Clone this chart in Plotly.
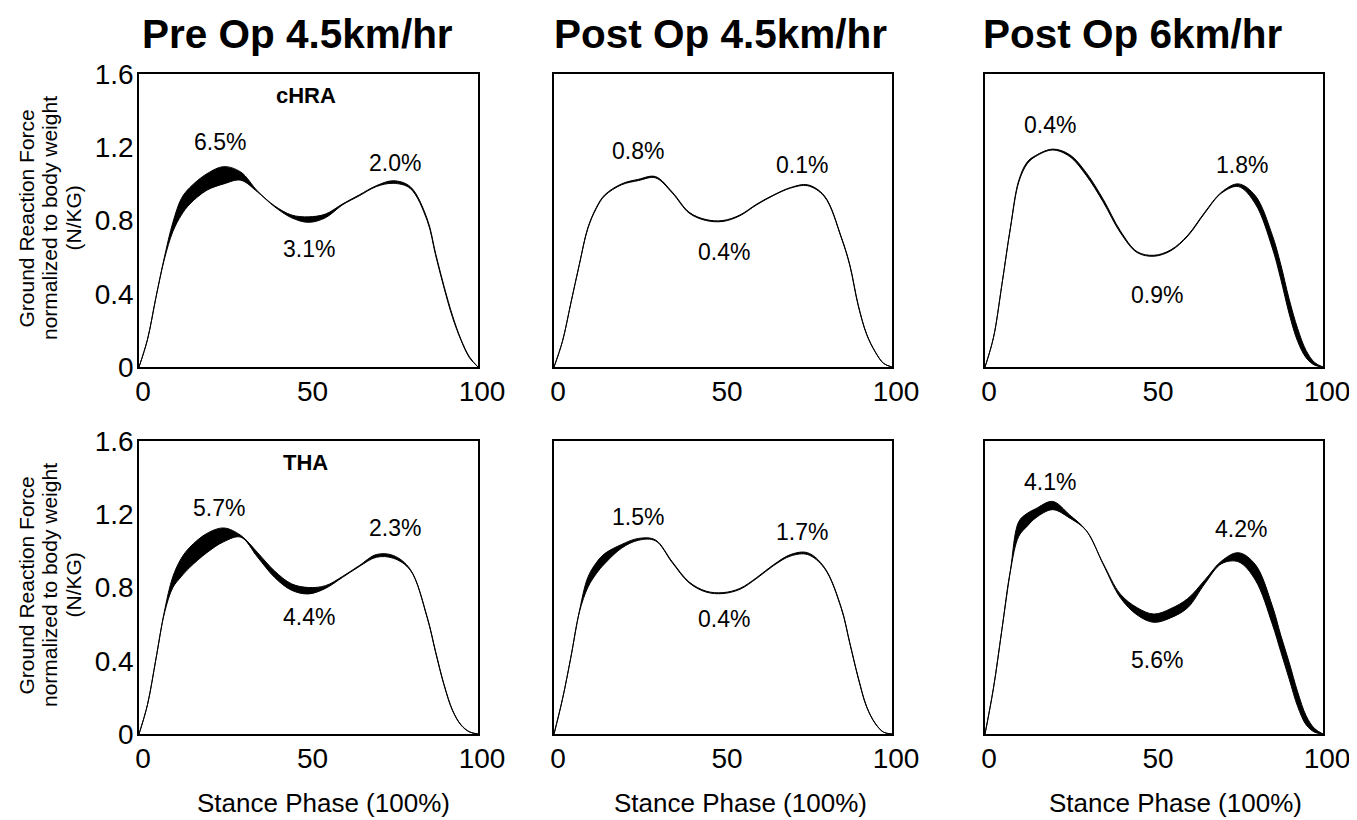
import plotly.graph_objects as go

W, H = 1357, 820
OFF = 8                      # page body margin of the browser
FW, FH = W - OFF, H - OFF    # figure size so that it ends at the window edge

# Stance phase (% of stance)
X = [0, 2.5, 5, 7.5, 10, 12.5, 15, 20, 25, 30, 35, 40, 45, 50, 55, 60, 65, 70, 75, 80, 85, 87.5, 90, 92.5, 95, 97.5, 100]

# Pre Op 4.5 km/hr - cHRA
pre45_chra_upper = [0, 0.15, 0.38, 0.60, 0.79, 0.92, 0.98, 1.055, 1.094, 1.065, 0.96, 0.88, 0.83, 0.82, 0.835, 0.89, 0.94, 0.99, 1.017, 0.985, 0.81, 0.62, 0.44, 0.28, 0.15, 0.055, 0]
pre45_chra_lower = [0, 0.15, 0.38, 0.59, 0.74, 0.83, 0.89, 0.965, 1.00, 1.02, 0.955, 0.875, 0.815, 0.79, 0.815, 0.885, 0.935, 0.985, 1.003, 0.975, 0.80, 0.61, 0.43, 0.27, 0.145, 0.05, 0]
# Post Op 4.5 km/hr - cHRA
post45_chra_upper = [0, 0.14, 0.35, 0.56, 0.76, 0.87, 0.94, 1.00, 1.025, 1.04, 0.955, 0.845, 0.805, 0.80, 0.83, 0.89, 0.94, 0.98, 0.995, 0.935, 0.71, 0.56, 0.34, 0.18, 0.085, 0.02, 0]
post45_chra_lower = [0, 0.14, 0.35, 0.56, 0.755, 0.865, 0.935, 0.995, 1.018, 1.033, 0.95, 0.84, 0.80, 0.795, 0.826, 0.886, 0.937, 0.977, 0.99, 0.93, 0.705, 0.555, 0.335, 0.177, 0.083, 0.02, 0]
# Post Op 6 km/hr - cHRA
post6_chra_upper = [0, 0.16, 0.45, 0.76, 1.02, 1.12, 1.155, 1.19, 1.16, 1.06, 0.915, 0.745, 0.63, 0.61, 0.64, 0.72, 0.845, 0.955, 1.00, 0.935, 0.72, 0.56, 0.37, 0.21, 0.09, 0.025, 0]
post6_chra_lower = [0, 0.16, 0.45, 0.755, 1.01, 1.11, 1.15, 1.185, 1.15, 1.045, 0.90, 0.735, 0.625, 0.605, 0.635, 0.715, 0.84, 0.95, 0.985, 0.89, 0.65, 0.48, 0.29, 0.14, 0.05, 0.01, 0]
# Pre Op 4.5 km/hr - THA
pre45_tha_upper = [0, 0.16, 0.41, 0.67, 0.86, 0.96, 1.02, 1.095, 1.125, 1.085, 0.99, 0.89, 0.82, 0.80, 0.81, 0.86, 0.92, 0.98, 0.975, 0.90, 0.64, 0.45, 0.27, 0.13, 0.05, 0.012, 0]
pre45_tha_lower = [0, 0.16, 0.41, 0.66, 0.80, 0.86, 0.91, 0.99, 1.05, 1.075, 0.965, 0.855, 0.785, 0.765, 0.795, 0.855, 0.915, 0.965, 0.96, 0.895, 0.635, 0.445, 0.265, 0.127, 0.048, 0.011, 0]
# Post Op 4.5 km/hr - THA
post45_tha_upper = [0, 0.19, 0.42, 0.67, 0.855, 0.935, 0.985, 1.035, 1.068, 1.06, 0.94, 0.83, 0.78, 0.772, 0.795, 0.855, 0.925, 0.98, 0.99, 0.91, 0.69, 0.50, 0.31, 0.15, 0.06, 0.01, 0]
post45_tha_lower = [0, 0.19, 0.42, 0.665, 0.80, 0.875, 0.93, 1.015, 1.058, 1.055, 0.935, 0.825, 0.775, 0.767, 0.79, 0.85, 0.92, 0.972, 0.98, 0.905, 0.685, 0.495, 0.305, 0.147, 0.058, 0.01, 0]
# Post Op 6 km/hr - THA
post6_tha_upper = [0, 0.25, 0.57, 0.89, 1.16, 1.205, 1.23, 1.27, 1.197, 1.11, 0.93, 0.765, 0.69, 0.655, 0.685, 0.74, 0.84, 0.945, 0.99, 0.925, 0.70, 0.54, 0.39, 0.23, 0.10, 0.03, 0]
post6_tha_lower = [0, 0.25, 0.57, 0.89, 1.08, 1.135, 1.18, 1.225, 1.18, 1.11, 0.925, 0.745, 0.65, 0.61, 0.635, 0.69, 0.82, 0.93, 0.94, 0.84, 0.60, 0.45, 0.30, 0.15, 0.05, 0.01, 0]

column_titles = ["Pre Op 4.5km/hr", "Post Op 4.5km/hr", "Post Op 6km/hr"]
group_labels = ["cHRA", "THA"]
x_ticks = [0, 50, 100]
y_ticks = [0, 0.4, 0.8, 1.2, 1.6]
y_tick_text = ["0", "0.4", "0.8", "1.2", "1.6"]
x_title = "Stance Phase (100%)"
y_title_lines = ["Ground Reaction Force", "normalized to body weight", "(N/KG)"]

# Asymmetry labels per panel: (x, y, text)
asym_labels = [
    [(23.8, 1.23, "6.5%"), (50.1, 0.643, "3.1%"), (75.5, 1.116, "2.0%")],
    [(24.8, 1.181, "0.8%"), (50.3, 0.63, "0.4%"), (73.3, 1.103, "0.1%")],
    [(19.2, 1.321, "0.4%"), (50.8, 0.393, "0.9%"), (75.9, 1.103, "1.8%")],
    [(23.7, 1.232, "5.7%"), (50.1, 0.641, "4.4%"), (75.5, 1.123, "2.3%")],
    [(24.9, 1.183, "1.5%"), (50.3, 0.626, "0.4%"), (73.3, 1.105, "1.7%")],
    [(19.2, 1.378, "4.1%"), (50.8, 0.404, "5.6%"), (75.6, 1.119, "4.2%")],
]

panels = [
    (pre45_chra_upper, pre45_chra_lower),
    (post45_chra_upper, post45_chra_lower),
    (post6_chra_upper, post6_chra_lower),
    (pre45_tha_upper, pre45_tha_lower),
    (post45_tha_upper, post45_tha_lower),
    (post6_tha_upper, post6_tha_lower),
]

FONT = "Liberation Sans, Arial, Helvetica, sans-serif"
col_px = [(139, 478), (554, 892), (985, 1323)]
row_px = [(74, 367), (441, 734)]


def px(xp):
    return (xp - OFF) / FW


def py(yp):
    return 1 - (yp - OFF) / FH


fig = go.Figure()
layout = dict(
    width=FW, height=FH, autosize=False,
    margin=dict(l=0, r=0, t=0, b=0, pad=0, autoexpand=False),
    paper_bgcolor="white", plot_bgcolor="white", showlegend=False,
    font=dict(family=FONT, color="black"),
)
annotations = []

for i, (up, lo) in enumerate(panels):
    r, c = divmod(i, 3)
    sfx = "" if i == 0 else str(i + 1)
    xa, ya = "x" + sfx, "y" + sfx
    fig.add_trace(go.Scatter(x=X, y=lo, mode="lines", xaxis=xa, yaxis=ya,
                             line=dict(color="black", width=1, shape="spline", smoothing=1.0),
                             hoverinfo="skip"))
    fig.add_trace(go.Scatter(x=X, y=up, mode="lines", xaxis=xa, yaxis=ya, fill="tonexty",
                             fillcolor="black",
                             line=dict(color="black", width=1, shape="spline", smoothing=1.0),
                             hoverinfo="skip"))
    x0, x1 = col_px[c]
    y0, y1 = row_px[r]
    layout["xaxis" + sfx] = dict(
        domain=[px(x0), px(x1)], anchor=ya, range=[0, 100],
        tickvals=x_ticks, ticktext=[str(t) for t in x_ticks],
        tickfont=dict(size=28, family=FONT, color="black"), ticks="",
        ticklabelstandoff=-1, ticklabelshift=4, automargin=False,
        showline=True, linecolor="black", linewidth=1.5, mirror=True,
        showgrid=False, zeroline=False, fixedrange=True,
    )
    layout["yaxis" + sfx] = dict(
        domain=[py(y1), py(y0)], anchor=xa, range=[0, 1.6],
        tickvals=y_ticks, ticktext=y_tick_text, showticklabels=(c == 0),
        tickfont=dict(size=28, family=FONT, color="black"), ticks="",
        ticklabelstandoff=-2, automargin=False,
        showline=True, linecolor="black", linewidth=1.5, mirror=True,
        showgrid=False, zeroline=False, fixedrange=True,
    )
    for (ax, ay, txt) in asym_labels[i]:
        annotations.append(dict(x=ax, y=ay, xref=xa, yref=ya, text=txt, showarrow=False,
                                font=dict(size=23, family=FONT, color="black")))
    if c == 0:
        annotations.append(dict(x=49.2, y=1.48, xref=xa, yref=ya,
                                text="<b>%s</b>" % group_labels[r], showarrow=False,
                                font=dict(size=22, family=FONT, color="black")))
        # y title lines
        yc = (y0 + y1) / 2 - 2
        for k, line in enumerate(y_title_lines):
            annotations.append(dict(x=px([26, 49.5, 73][k]), y=py(yc), xref="paper", yref="paper",
                                    text=line, textangle=-90, showarrow=False,
                                    xanchor="center", yanchor="middle",
                                    font=dict(size=21, family=FONT, color="black")))
    if r == 1:
        xc = [323, 740, 1175][c]
        annotations.append(dict(x=px(xc), y=py(803), xref="paper", yref="paper",
                                text=x_title, showarrow=False, xanchor="center", yanchor="middle",
                                font=dict(size=26, family=FONT, color="black")))

for c, t in enumerate(column_titles):
    xc = [297, 720, 1133][c]
    annotations.append(dict(x=px(xc), y=py(34), xref="paper", yref="paper",
                            text="<b>%s</b>" % t, showarrow=False, xanchor="center", yanchor="middle",
                            font=dict(size=40.5, family=FONT, color="black")))

layout["annotations"] = annotations
fig.update_layout(**layout)
fig.write_html("out.html")
